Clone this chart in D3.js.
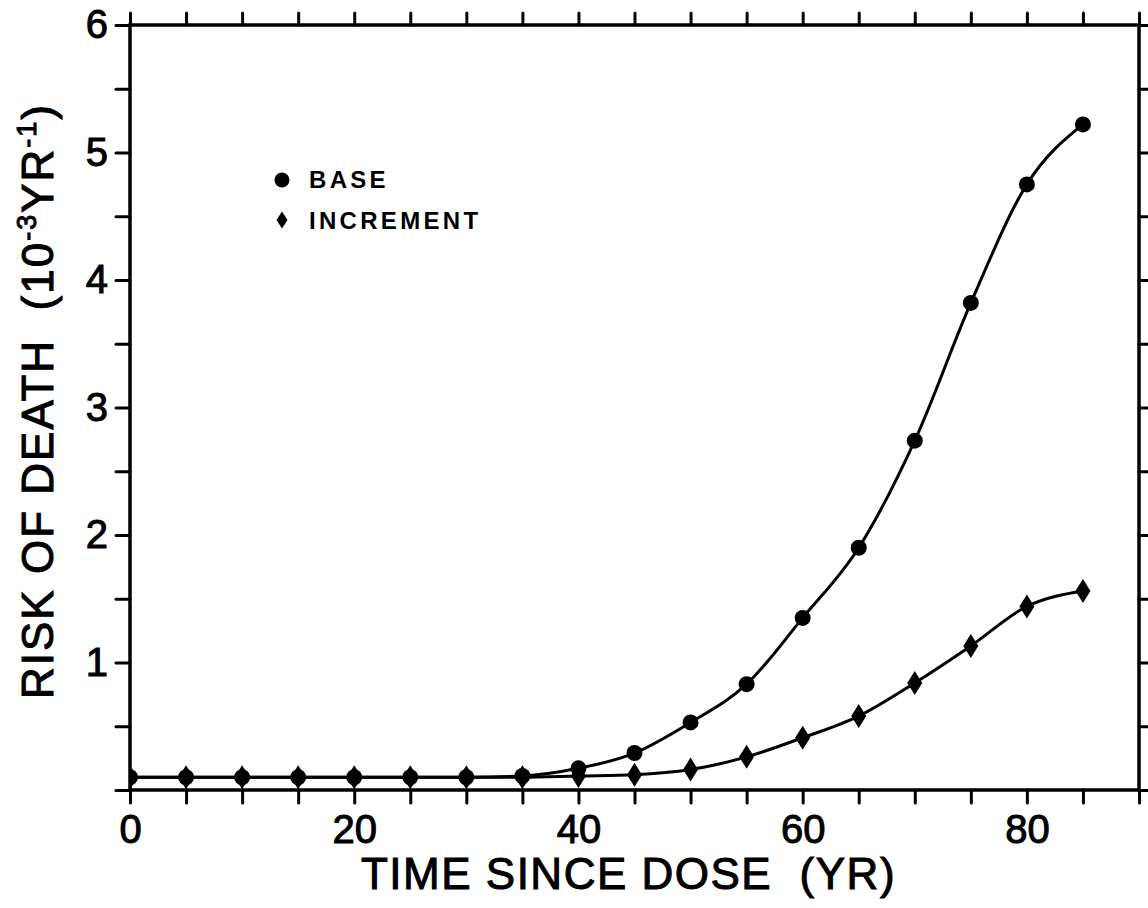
<!DOCTYPE html>
<html>
<head>
<meta charset="utf-8">
<script src="https://cdn.jsdelivr.net/npm/d3@7"></script>
<style>
  html, body { margin: 0; padding: 0; background: #fff; }
  svg { display: block; }
  text { font-family: "Liberation Sans", Arial, Helvetica, sans-serif; fill: #000; }
</style>
</head>
<body>
<svg id="chart" width="1148" height="908"></svg>
<script>
// ---- data ----
const years = [0,5,10,15,20,25,30,35,40,45,50,55,60,65,70,75,80,85];
const base = [0.10,0.10,0.10,0.10,0.10,0.10,0.10,0.11,0.17,0.29,0.53,0.83,1.35,1.90,2.74,3.82,4.75,5.22];
const increment = [0.10,0.10,0.10,0.10,0.10,0.10,0.10,0.10,0.11,0.12,0.16,0.26,0.41,0.58,0.84,1.13,1.44,1.56];
const xTickLabels = [0,20,40,60,80];
const yTickLabels = [1,2,3,4,5,6];
const seriesNames = ["BASE","INCREMENT"];
const xTitle = "TIME SINCE DOSE  (YR)";

// ---- layout ----
const svg = d3.select("#chart");
const L = 130, R = 1139, T = 25, B = 790;
const x = d3.scaleLinear().domain([0,90]).range([L,R]);
const y = d3.scaleLinear().domain([0,6]).range([B,T]);

svg.append("defs").append("clipPath").attr("id","plotclip")
  .append("rect").attr("x",L).attr("y",T).attr("width",R-L).attr("height",B-T);

function styleAxis(g){
  g.select(".domain").remove();
  g.selectAll(".tick line").attr("stroke","#000").attr("stroke-width",3).attr("stroke-linecap","round");
  g.selectAll(".tick text").attr("font-size",40).attr("fill","#000")
    .attr("stroke","#000").attr("stroke-width",1);
}

// axes
svg.append("g").attr("transform",`translate(${L},0)`)
  .call(d3.axisLeft(y).tickValues(d3.range(0,6.01,0.5)).tickSize(14).tickPadding(8)
    .tickFormat(d => yTickLabels.includes(d) ? d : ""))
  .call(styleAxis);
svg.append("g").attr("transform",`translate(${R},0)`)
  .call(d3.axisRight(y).tickValues(d3.range(0,6.01,0.5)).tickSize(14).tickFormat(""))
  .call(styleAxis);
svg.append("g").attr("transform",`translate(0,${B})`)
  .call(d3.axisBottom(x).tickValues(d3.range(0,91,5)).tickSize(13).tickPadding(12)
    .tickFormat(d => xTickLabels.includes(d) ? d : ""))
  .call(styleAxis);
svg.append("g").attr("transform",`translate(0,${T})`)
  .call(d3.axisTop(x).tickValues(d3.range(0,91,5)).tickSize(12).tickFormat(""))
  .call(styleAxis);

// frame
svg.append("rect").attr("x",L).attr("y",T).attr("width",R-L).attr("height",B-T)
  .attr("fill","none").attr("stroke","#000").attr("stroke-width",3.5);

// data
const plot = svg.append("g").attr("clip-path","url(#plotclip)");
const line = d3.line().x((d,i)=>x(years[i])).y(d=>y(d)).curve(d3.curveMonotoneX);
[base, increment].forEach(s => {
  plot.append("path").datum(s).attr("d",line)
    .attr("fill","none").attr("stroke","#000").attr("stroke-width",3);
});
const diamond = (cx,cy,w,h) => `M${cx},${cy-h/2}L${cx+w/2},${cy}L${cx},${cy+h/2}L${cx-w/2},${cy}Z`;
plot.selectAll("circle.base").data(base).join("circle").attr("class","base")
  .attr("cx",(d,i)=>x(years[i])).attr("cy",d=>y(d)).attr("r",8).attr("fill","#000");
plot.selectAll("path.inc").data(increment).join("path").attr("class","inc")
  .attr("d",(d,i)=>diamond(x(years[i]),y(d),15,24)).attr("fill","#000");

// legend
const lg = svg.append("g");
lg.append("circle").attr("cx",282).attr("cy",180).attr("r",7.5).attr("fill","#000");
lg.append("path").attr("d",diamond(282,220,11,17)).attr("fill","#000");
lg.selectAll("text").data(seriesNames).join("text")
  .attr("x",309).attr("y",(d,i)=>188+i*41)
  .attr("font-size",24).attr("font-weight","bold").attr("letter-spacing",3.3)
  .text(d=>d);

// axis titles
svg.append("text").attr("x",(L+R)/2 - 6).attr("y",889).attr("text-anchor","middle")
  .attr("font-size",44).attr("stroke","#000").attr("stroke-width",1)
  .attr("letter-spacing",1.5).style("white-space","pre").text(xTitle);

const yt = svg.append("text").attr("transform",`translate(53,401) rotate(-90)`)
  .attr("text-anchor","middle").attr("font-size",44).attr("stroke","#000").attr("stroke-width",1)
  .attr("letter-spacing",2).style("white-space","pre");
yt.append("tspan").text("RISK OF DEATH  (10");
yt.append("tspan").attr("font-size",27).attr("dy",-17).text("-3");
yt.append("tspan").attr("dy",17).text("YR");
yt.append("tspan").attr("font-size",27).attr("dy",-17).text("-1");
yt.append("tspan").attr("dy",17).text(")");
</script>
</body>
</html>
